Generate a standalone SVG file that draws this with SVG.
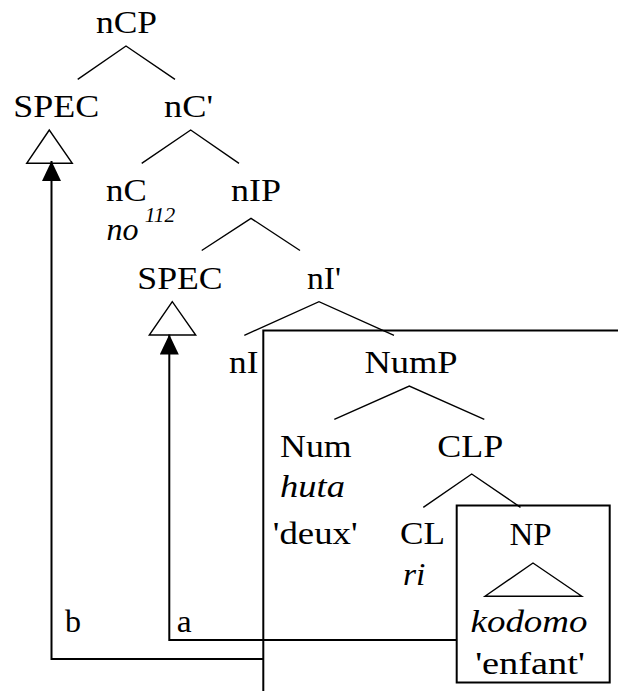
<svg xmlns="http://www.w3.org/2000/svg" width="618" height="691" viewBox="0 0 618 691">
<style>
.br{fill:none;stroke:#000;stroke-width:1.4}
.tri{fill:#fff;stroke:#000;stroke-width:1.4}
.con{fill:none;stroke:#000;stroke-width:2}
.box{fill:none;stroke:#000;stroke-width:2}
</style>
<defs>
<marker id="ah" viewBox="0 0 20 19" refX="20" refY="9.5" markerWidth="20" markerHeight="19" markerUnits="userSpaceOnUse" orient="auto">
<path d="M0,0 L20,9.5 L0,19 Z" fill="#000"/>
</marker>
</defs>
<rect width="618" height="691" fill="#fff"/>
<g font-family="Liberation Serif, serif" font-size="32" text-anchor="middle" fill="#000">
<g id="frame">
<path class="box" d="M263.3,691 V330.5 H618"/>
<rect class="box" x="456.7" y="505.5" width="153" height="177"/>
</g>
<g id="nCP"><text transform="matrix(1.107 0 0 1 126.5 33)">nCP</text>
<path class="br" d="M77.7,79.3 L126,46 L175,79.3"/></g>
<g id="SPEC1"><text transform="matrix(1.124 0 0 1 56.2 117)">SPEC</text>
<path class="tri" d="M49.3,130 L26.7,163.3 L72.3,163.3 Z"/></g>
<g id="nCbar"><text transform="matrix(1.137 0 0 1 188.5 117)">nC'</text>
<path class="br" d="M141.7,163.3 L190.7,130 L239,163.3"/></g>
<g id="nC"><text transform="matrix(1.09 0 0 1 126.4 201)">nC</text>
<text font-style="italic" transform="matrix(1 0 0 1 122.5 240)">no</text>
<text font-style="italic" font-size="20" transform="matrix(1.07 0 0 1 160 221.7)">112</text></g>
<g id="nIP"><text transform="matrix(1.125 0 0 1 256 201)">nIP</text>
<path class="br" d="M201.7,250.5 L251,218.3 L300,250.5"/></g>
<g id="SPEC2"><text transform="matrix(1.117 0 0 1 180 289.3)">SPEC</text>
<path class="tri" d="M172.3,301.7 L149.3,335 L195.7,335 Z"/></g>
<g id="nIbar"><text transform="matrix(1.05 0 0 1 324 289.3)">nI'</text>
<path class="br" d="M244.3,335.3 L319,301.7 L394,335.3"/></g>
<g id="nI"><text transform="matrix(1.1 0 0 1 243.7 373.3)">nI</text></g>
<g id="NumP"><text transform="matrix(1.14 0 0 1 411 373.3)">NumP</text>
<path class="br" d="M334.3,419.3 L409.3,386 L484.3,419.3"/></g>
<g id="Num"><text transform="matrix(1.12 0 0 1 315.9 456.5)">Num</text>
<text font-style="italic" transform="matrix(1.14 0 0 1 312.5 496.5)">huta</text>
<text transform="matrix(1.15 0 0 1 315.2 544)">'deux'</text></g>
<g id="CLP"><text transform="matrix(1.125 0 0 1 470.3 456.5)">CLP</text>
<path class="br" d="M423.3,507.3 L471.7,474 L520.5,507.3"/></g>
<g id="CL"><text transform="matrix(1.1 0 0 1 422.5 544)">CL</text>
<text font-style="italic" transform="matrix(1.05 0 0 1 414.2 585)">ri</text></g>
<g id="NP"><text transform="matrix(1.03 0 0 1 530.5 545)">NP</text>
<path class="tri" d="M533,563 L485,596.2 L581.8,596.2 Z"/>
<text font-style="italic" transform="matrix(1.155 0 0 1 529 631.8)">kodomo</text>
<text transform="matrix(1.2 0 0 1 530 673.5)">'enfant'</text></g>
<g id="connectors">
<path class="con" d="M263.3,659 H51.5 V161" marker-end="url(#ah)"/>
<path class="con" d="M456.7,640 H169.3 V334.5" marker-end="url(#ah)"/>
<text transform="matrix(1 0 0 1 73 632)">b</text>
<text transform="matrix(1.05 0 0 1 184.2 632)">a</text>
</g>
</g>
</svg>
